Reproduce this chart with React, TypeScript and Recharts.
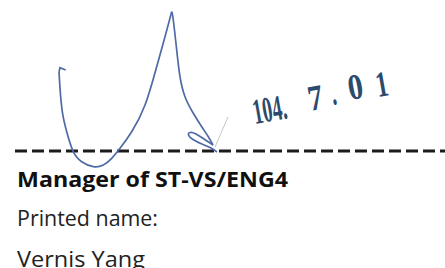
import { LineChart, Line, XAxis, YAxis, ReferenceLine, ReferenceDot } from 'recharts'

// signature strokes as [x, y] in page pixels
const hookStroke = [[65.7, 70], [60, 67.7], [59, 71.7]]
const leftStroke = [
  [59, 71.7], [60, 88], [62.3, 111.7], [66.7, 131.7], [73.3, 151.7], [81.7, 161.7],
  [93.3, 166.7], [103.3, 165], [111.7, 158.3], [120, 148.3], [131.7, 131.7],
  [145, 105], [156.7, 66.7], [165, 36.7], [171.7, 11.7],
]
const rightStroke = [
  [171.7, 11.7], [173.3, 20], [176.7, 50], [180, 76.7], [185, 96.7],
  [193.3, 113.3], [201.7, 126.7], [208.3, 136.7], [213, 145],
]
const loopStroke = [
  [213, 145], [204, 139], [196, 134], [190, 132.5], [188.5, 135],
  [193, 139.5], [203, 144.5], [211, 148], [217, 152],
]
const faintStroke = [[215, 147], [228, 117]]

// date stamp pieces and where they sit
const stampParts = ['104.', '7', '.', '0', '1']
const stampX = [255, 310, 333, 350, 378]
const stampY = [124, 111, 105, 100, 97]
const stampWidth = [34, 15, 5, 15, 12]

const captionLines = ['Manager of ST-VS/ENG4', 'Printed name:', 'Vernis Yang']
const captionY = [186.5, 226, 266.5]
const captionWidth = [271, 141, 128]

const toPoints = (arr: number[][]) => arr.map(([x, y]) => ({ x, y }))

const INK = '#4f6aa6'
const STAMP = '#2c4a6c'

export default function App() {
  return (
    <div style={{ position: 'absolute', left: 0, top: 0, width: 445, height: 268, background: '#fff' }}>
      <LineChart width={445} height={268} margin={{ top: 0, right: 0, bottom: 0, left: 0 }}>
        <XAxis dataKey="x" type="number" domain={[0, 445]} hide />
        <YAxis dataKey="y" type="number" domain={[0, 268]} reversed hide />

        <ReferenceLine
          segment={[{ x: 15, y: 151 }, { x: 445, y: 151 }]}
          stroke="#1b1b1b"
          strokeWidth={3}
          strokeDasharray="12 5"
        />

        <Line data={toPoints(faintStroke)} dataKey="y" stroke="#c4c8cf" strokeWidth={1} dot={false} activeDot={false} isAnimationActive={false} />
        <Line data={toPoints(hookStroke)} dataKey="y" type="linear" stroke={INK} strokeWidth={1.7} dot={false} activeDot={false} isAnimationActive={false} />
        <Line data={toPoints(leftStroke)} dataKey="y" type="natural" stroke={INK} strokeWidth={1.7} dot={false} activeDot={false} isAnimationActive={false} />
        <Line data={toPoints(rightStroke)} dataKey="y" type="natural" stroke={INK} strokeWidth={1.7} dot={false} activeDot={false} isAnimationActive={false} />
        <Line data={toPoints(loopStroke)} dataKey="y" type="natural" stroke={INK} strokeWidth={1.7} dot={false} activeDot={false} isAnimationActive={false} />

        {stampParts.map((part, i) => (
          <ReferenceDot
            key={'s' + i}
            x={stampX[i]}
            y={stampY[i]}
            r={0}
            shape={(p: any) => (
              <text
                x={p.cx}
                y={p.cy}
                transform={`rotate(-10 ${p.cx} ${p.cy})`}
                fill={STAMP}
                fontFamily="'Liberation Serif', serif"
                fontWeight="bold"
                fontSize={36}
                textLength={stampWidth[i]}
                lengthAdjust="spacingAndGlyphs"
              >
                {part}
              </text>
            )}
          />
        ))}

        {captionLines.map((line, i) => (
          <ReferenceDot
            key={'c' + i}
            x={17}
            y={captionY[i]}
            r={0}
            shape={(p: any) => (
              <text
                x={p.cx}
                y={p.cy}
                fill={i === 0 ? '#111' : '#222'}
                fontFamily="'Open Sans', sans-serif"
                fontWeight={i === 0 ? 700 : 400}
                fontSize={22}
                textLength={captionWidth[i]}
                lengthAdjust="spacingAndGlyphs"
              >
                {line}
              </text>
            )}
          />
        ))}
      </LineChart>
    </div>
  )
}
